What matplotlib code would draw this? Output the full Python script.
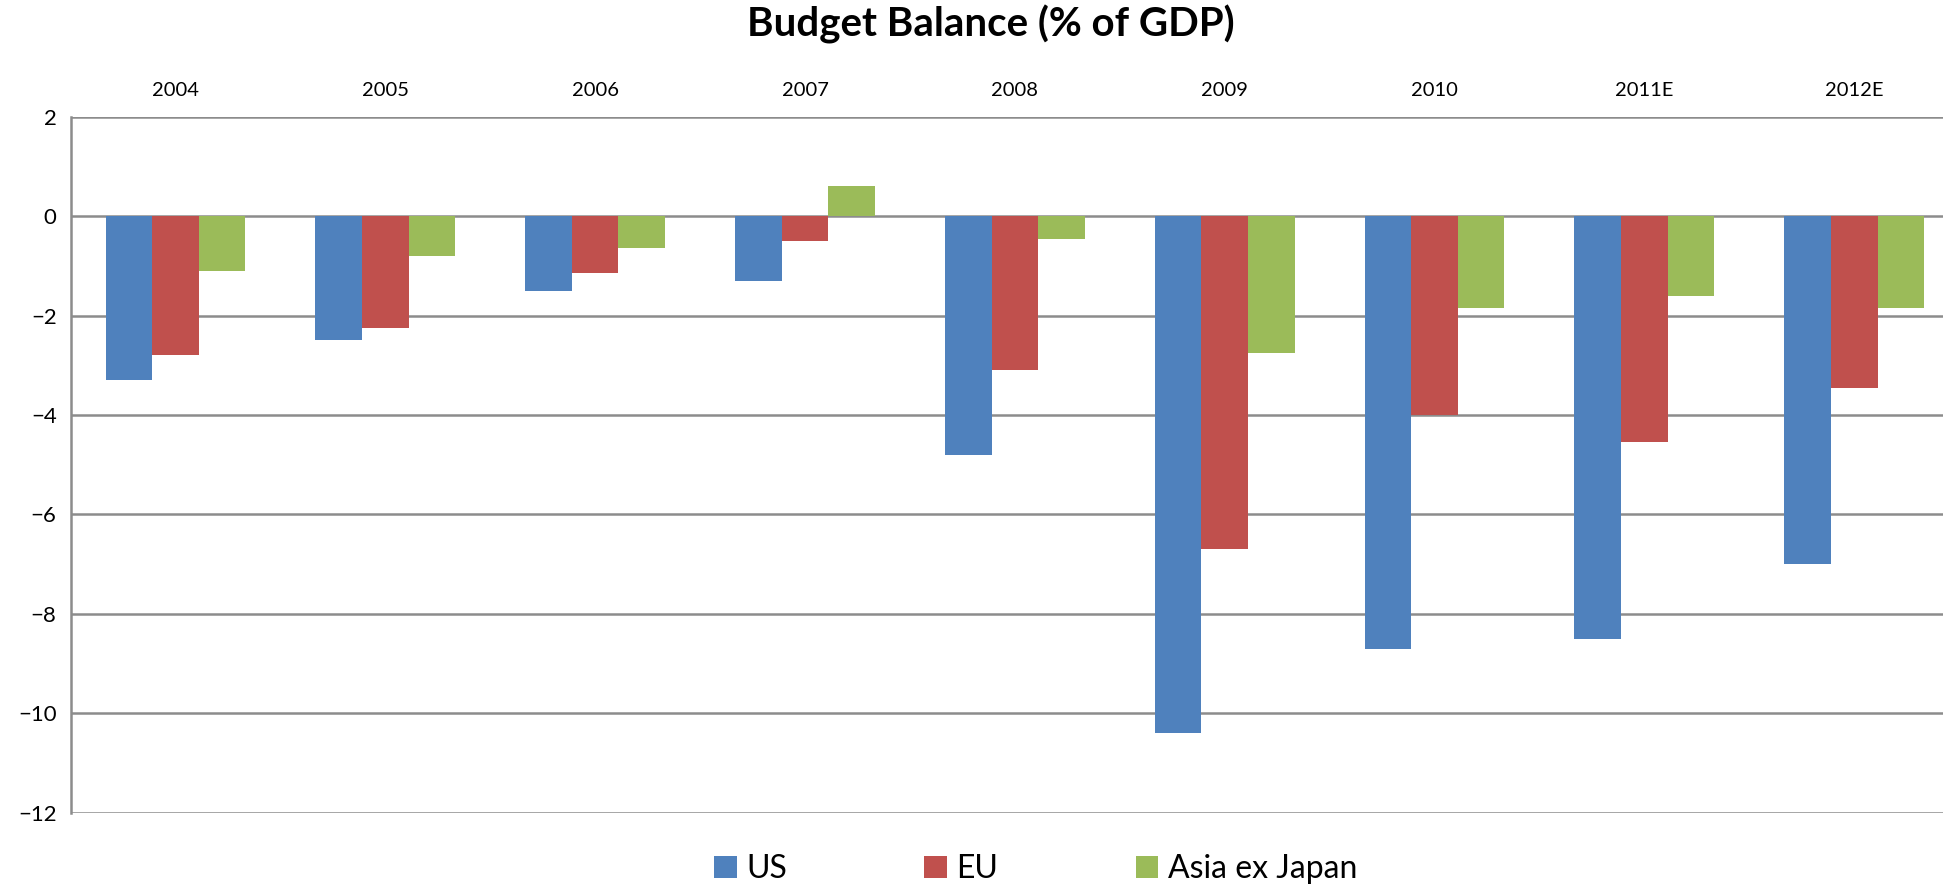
import numpy as np
import matplotlib
matplotlib.use('Agg')
import matplotlib.pyplot as plt
from matplotlib.patches import Patch

plt.rcParams['font.family'] = ['Lato', 'DejaVu Sans']

# --- data ---
years = ['2004', '2005', '2006', '2007', '2008', '2009', '2010', '2011E', '2012E']
us = [-3.3, -2.5, -1.5, -1.3, -4.8, -10.4, -8.7, -8.5, -7.0]
eu = [-2.8, -2.25, -1.15, -0.5, -3.1, -6.7, -4.0, -4.55, -3.45]
asia = [-1.1, -0.8, -0.65, 0.6, -0.45, -2.75, -1.85, -1.6, -1.85]

series_names = ['US', 'EU', 'Asia ex Japan']
colors = ['#4F81BD', '#C0504D', '#9BBB59']

fig = plt.figure(figsize=(19.43, 8.89), dpi=100)
ax = fig.add_axes([0.0363, 0.0857, 0.972, 0.783])

x = np.arange(len(years))
w = 1 / 4.5
for i, (vals, col) in enumerate(zip([us, eu, asia], colors)):
    ax.bar(x + (i - 1) * w, vals, width=w, color=col, zorder=3)

ax.set_xlim(-0.5, len(years) - 0.5)
ax.set_ylim(-12, 2)
ax.set_yticks(np.arange(-12, 3, 2))
ax.grid(axis='y', color='#8C8C8C', linewidth=1.8, zorder=0)

# category labels sit above the plot
ax.xaxis.tick_top()
ax.set_xticks(x)
ax.set_xticklabels(years, fontsize=14.5)
ax.tick_params(axis='x', length=0, pad=13)
ax.tick_params(axis='y', length=0, pad=10, labelsize=16)

for side in ['top', 'right', 'bottom']:
    ax.spines[side].set_visible(False)
ax.spines['left'].set_color('#8C8C8C')
ax.spines['left'].set_linewidth(1.8)

fig.suptitle('Budget Balance (% of GDP)', x=0.51, y=0.995, fontsize=29,
             fontweight='bold', va='top')

handles = [Patch(facecolor=c) for c in colors]
fig.legend(handles, series_names, loc='center', bbox_to_anchor=(0.533, 0.022),
           ncol=3, frameon=False, fontsize=23, handlelength=0.7,
           handleheight=0.7, handletextpad=0.3, columnspacing=4.3)

plt.savefig('out.png', dpi=100)
